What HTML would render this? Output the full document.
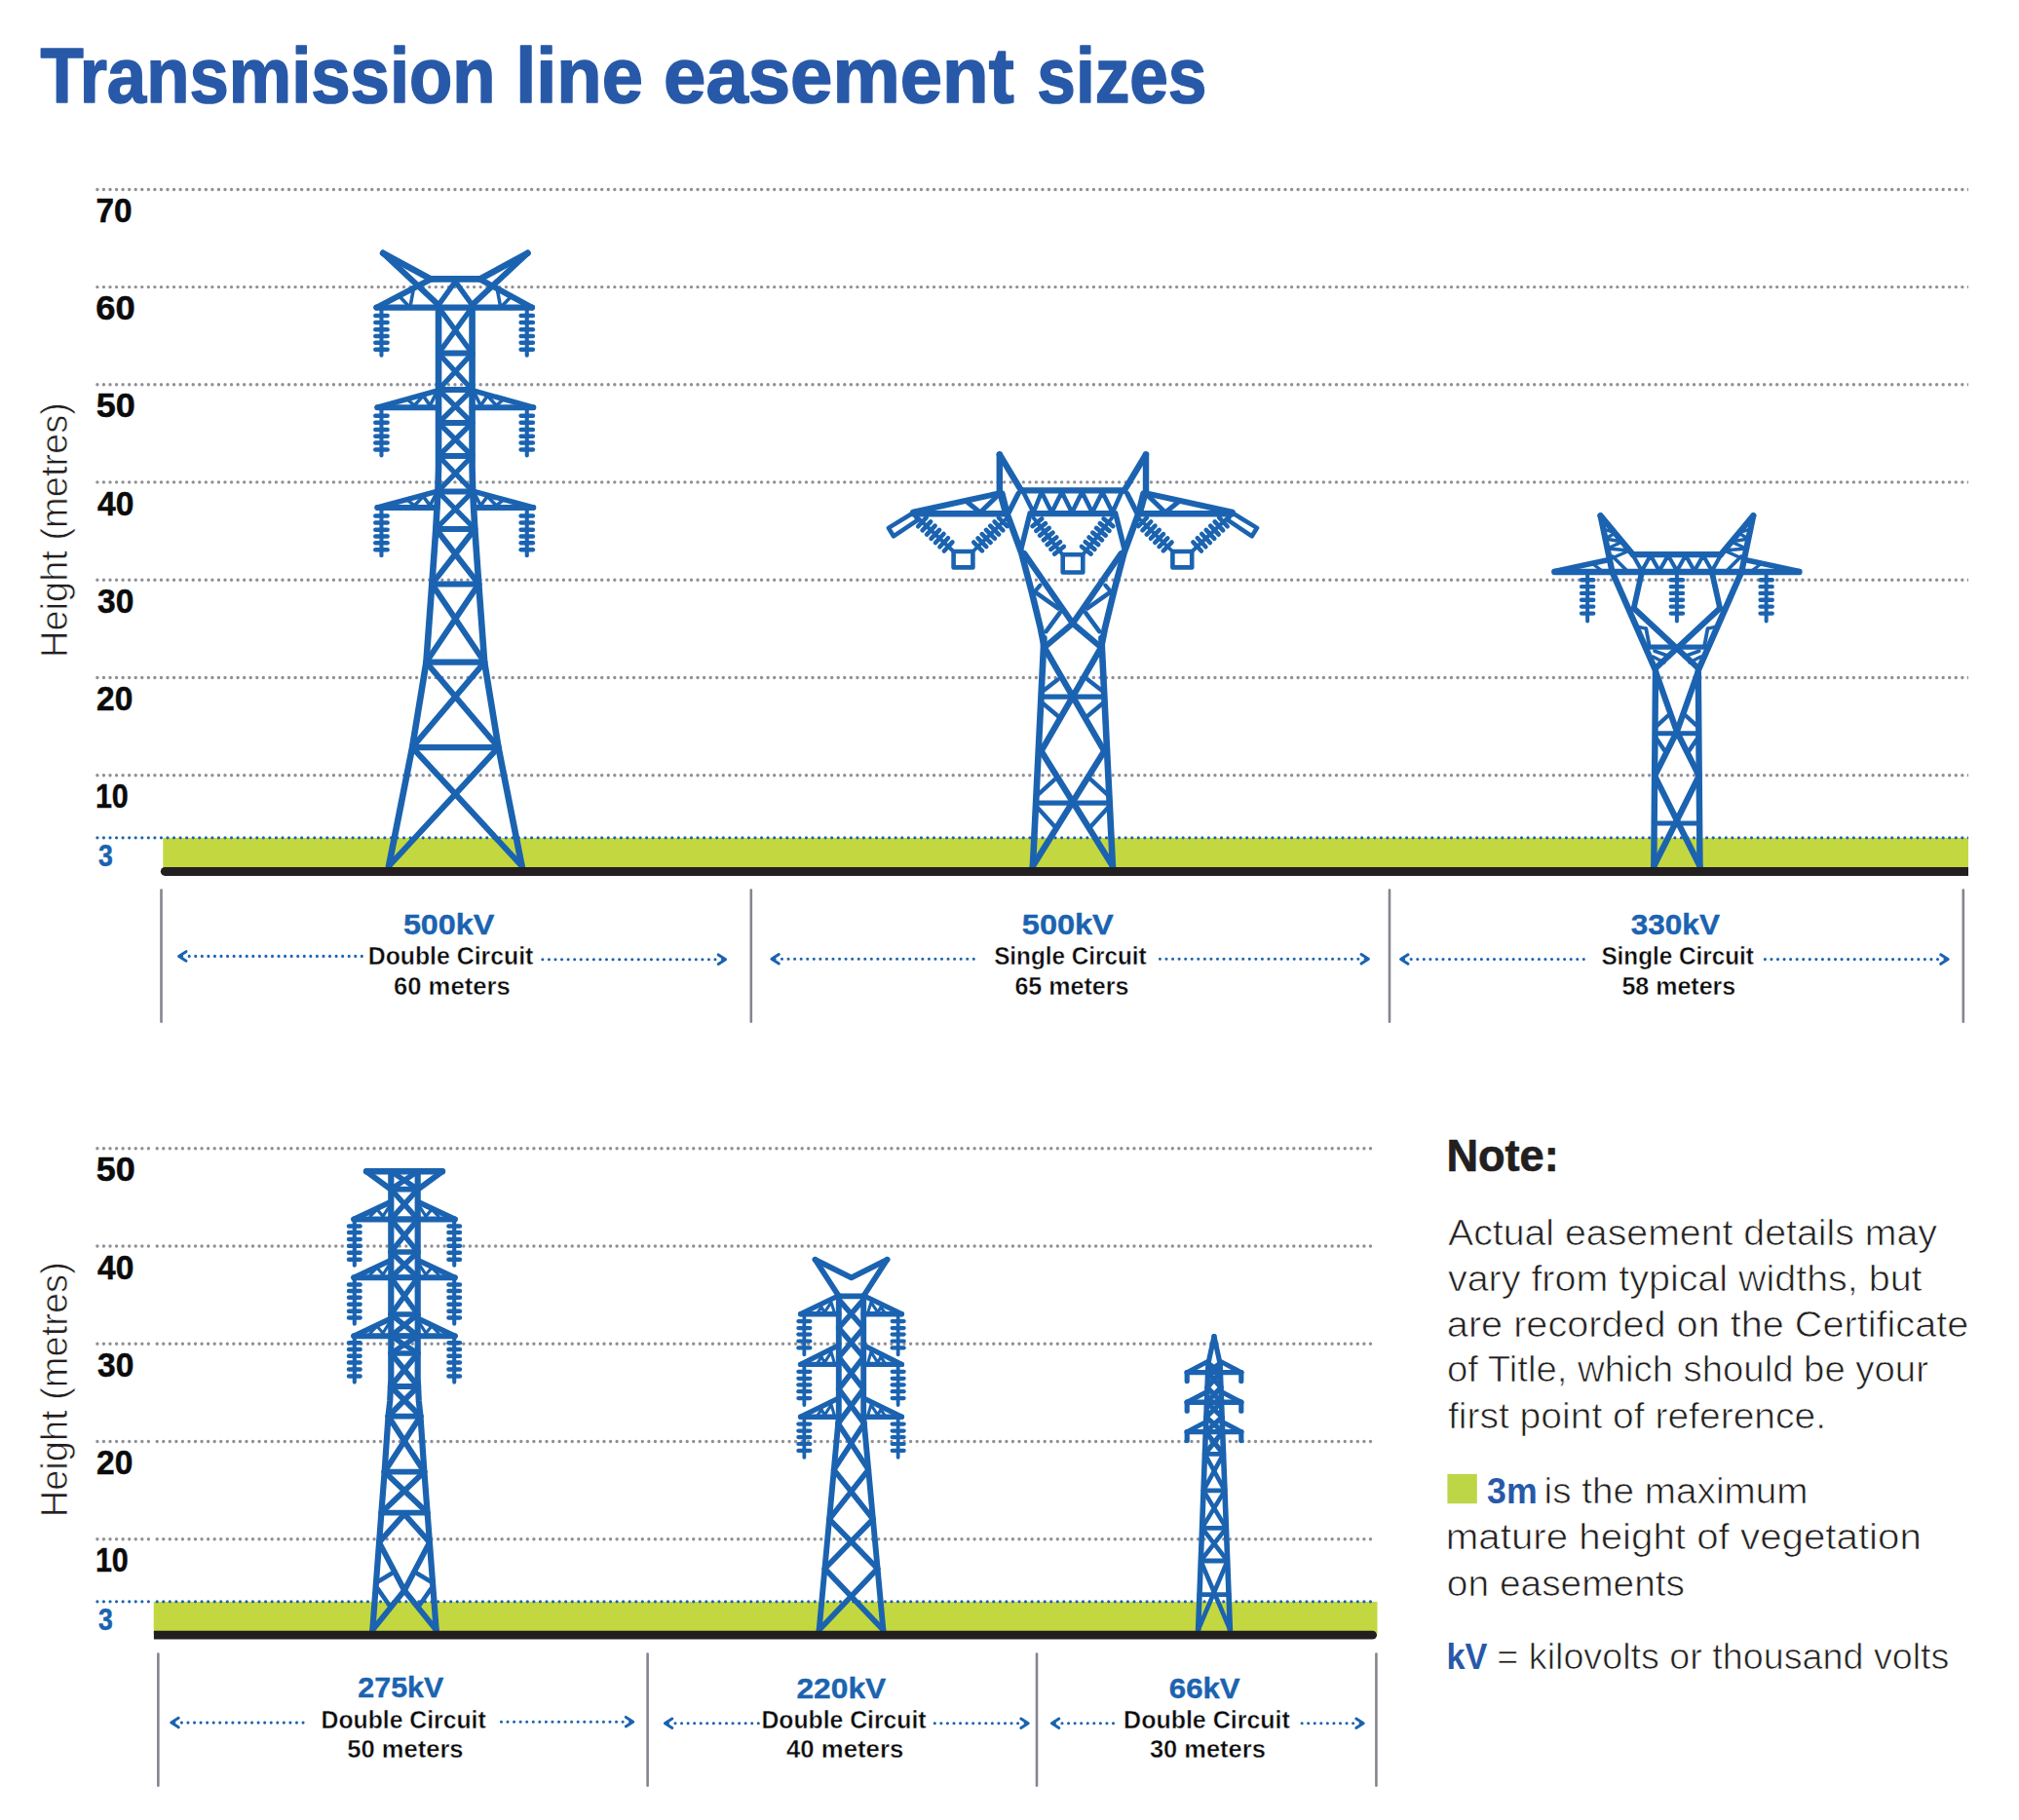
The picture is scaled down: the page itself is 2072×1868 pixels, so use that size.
<!DOCTYPE html>
<html lang="en">
<head>
<meta charset="utf-8">
<title>Transmission line easement sizes</title>
<style>
html,body{margin:0;padding:0;background:#fff}
body{width:2072px;height:1868px;overflow:hidden}
svg{display:block}
text{font-family:'Liberation Sans', sans-serif}
</style>
</head>
<body>
<svg width="2072" height="1868" viewBox="0 0 2072 1868">
<defs><clipPath id="ct"><rect x="0" y="0" width="2019.9" height="1000"/></clipPath></defs>
<rect width="2072" height="1868" fill="#fff"/>
<g id="grid">
<line x1="99.9" y1="194.5" x2="2021" y2="194.5" stroke="#8F8F97" stroke-width="3.4" stroke-linecap="round" stroke-dasharray="0 6.5545" clip-path="url(#ct)"/>
<line x1="99.9" y1="294.6" x2="2021" y2="294.6" stroke="#8F8F97" stroke-width="3.4" stroke-linecap="round" stroke-dasharray="0 6.5545" clip-path="url(#ct)"/>
<line x1="99.9" y1="394.8" x2="2021" y2="394.8" stroke="#8F8F97" stroke-width="3.4" stroke-linecap="round" stroke-dasharray="0 6.5545" clip-path="url(#ct)"/>
<line x1="99.9" y1="494.9" x2="2021" y2="494.9" stroke="#8F8F97" stroke-width="3.4" stroke-linecap="round" stroke-dasharray="0 6.5545" clip-path="url(#ct)"/>
<line x1="99.9" y1="595.2" x2="2021" y2="595.2" stroke="#8F8F97" stroke-width="3.4" stroke-linecap="round" stroke-dasharray="0 6.5545" clip-path="url(#ct)"/>
<line x1="99.9" y1="695.5" x2="2021" y2="695.5" stroke="#8F8F97" stroke-width="3.4" stroke-linecap="round" stroke-dasharray="0 6.5545" clip-path="url(#ct)"/>
<line x1="99.9" y1="795.8" x2="2021" y2="795.8" stroke="#8F8F97" stroke-width="3.4" stroke-linecap="round" stroke-dasharray="0 6.5545" clip-path="url(#ct)"/>
<rect x="167.3" y="860" width="1852.7" height="31" fill="#C3D840"/>
<line x1="99.9" y1="859.8" x2="2021" y2="859.8" stroke="#1B63B0" stroke-width="3.2" stroke-linecap="round" stroke-dasharray="0 6.5545" clip-path="url(#ct)"/>
<line x1="99.9" y1="1178.8" x2="154" y2="1178.8" stroke="#8F8F97" stroke-width="3.4" stroke-linecap="round" stroke-dasharray="0 6.56"/>
<line x1="161.2" y1="1178.8" x2="1408" y2="1178.8" stroke="#8F8F97" stroke-width="3.4" stroke-linecap="round" stroke-dasharray="0 6.554"/>
<line x1="99.9" y1="1279" x2="154" y2="1279" stroke="#8F8F97" stroke-width="3.4" stroke-linecap="round" stroke-dasharray="0 6.56"/>
<line x1="161.2" y1="1279" x2="1408" y2="1279" stroke="#8F8F97" stroke-width="3.4" stroke-linecap="round" stroke-dasharray="0 6.554"/>
<line x1="99.9" y1="1379.3" x2="154" y2="1379.3" stroke="#8F8F97" stroke-width="3.4" stroke-linecap="round" stroke-dasharray="0 6.56"/>
<line x1="161.2" y1="1379.3" x2="1408" y2="1379.3" stroke="#8F8F97" stroke-width="3.4" stroke-linecap="round" stroke-dasharray="0 6.554"/>
<line x1="99.9" y1="1479.5" x2="154" y2="1479.5" stroke="#8F8F97" stroke-width="3.4" stroke-linecap="round" stroke-dasharray="0 6.56"/>
<line x1="161.2" y1="1479.5" x2="1408" y2="1479.5" stroke="#8F8F97" stroke-width="3.4" stroke-linecap="round" stroke-dasharray="0 6.554"/>
<line x1="99.9" y1="1579.8" x2="154" y2="1579.8" stroke="#8F8F97" stroke-width="3.4" stroke-linecap="round" stroke-dasharray="0 6.56"/>
<line x1="161.2" y1="1579.8" x2="1408" y2="1579.8" stroke="#8F8F97" stroke-width="3.4" stroke-linecap="round" stroke-dasharray="0 6.554"/>
<rect x="157.7" y="1644" width="1255.8" height="33.5" fill="#C3D840"/>
<line x1="99.9" y1="1643.8" x2="154" y2="1643.8" stroke="#1B63B0" stroke-width="3.2" stroke-linecap="round" stroke-dasharray="0 6.56"/>
<line x1="161.2" y1="1643.8" x2="1408" y2="1643.8" stroke="#1B63B0" stroke-width="3.2" stroke-linecap="round" stroke-dasharray="0 6.554"/>
</g>
<g id="towers" stroke="#1B63B0" stroke-linecap="round" stroke-linejoin="round" fill="none">
<g><polyline points="450.05,315.4 450.05,480 449.4,504.4 447.3,543 443.3,599.5 437.4,679.7 423.1,767.1 399,889" stroke-width="6.6" fill="none"/><polyline points="484.55,315.4 484.55,480 485.2,504.4 487.3,543 491.3,599.5 497.2,679.7 511.5,767.1 535.6,889" stroke-width="6.6" fill="none"/><line x1="442" y1="286.4" x2="492.6" y2="286.4" stroke-width="6.6"/><line x1="393.1" y1="259.8" x2="442" y2="286.4" stroke-width="6.6"/><line x1="541.5" y1="259.8" x2="492.6" y2="286.4" stroke-width="6.6"/><line x1="393.1" y1="259.8" x2="450.05" y2="313" stroke-width="6"/><line x1="541.5" y1="259.8" x2="484.55" y2="313" stroke-width="6"/><line x1="386.5" y1="315.6" x2="545.9" y2="315.6" stroke-width="6.4"/><line x1="386.5" y1="315.6" x2="440.3" y2="287.5" stroke-width="6"/><line x1="545.9" y1="315.6" x2="494.3" y2="287.5" stroke-width="6"/><line x1="467.3" y1="289" x2="450.05" y2="313" stroke-width="5.5"/><line x1="467.3" y1="289" x2="484.55" y2="313" stroke-width="5.5"/><line x1="424.3" y1="297" x2="421.3" y2="313" stroke-width="3.6"/><line x1="510.3" y1="297" x2="513.3" y2="313" stroke-width="3.6"/><line x1="409.3" y1="303.5" x2="418.3" y2="313" stroke-width="3.6"/><line x1="525.3" y1="303.5" x2="516.3" y2="313" stroke-width="3.6"/><line x1="387.3" y1="418.2" x2="450.05" y2="418.2" stroke-width="6"/><line x1="547.3" y1="418.2" x2="484.55" y2="418.2" stroke-width="6"/><line x1="387.3" y1="418.2" x2="448.3" y2="401.1" stroke-width="5.5"/><line x1="547.3" y1="418.2" x2="486.3" y2="401.1" stroke-width="5.5"/><line x1="448.3" y1="402.1" x2="441.3" y2="416.2" stroke-width="3.6"/><line x1="486.3" y1="402.1" x2="493.3" y2="416.2" stroke-width="3.6"/><line x1="441.3" y1="416.2" x2="434.3" y2="406.1" stroke-width="3.6"/><line x1="493.3" y1="416.2" x2="500.3" y2="406.1" stroke-width="3.6"/><line x1="434.3" y1="406.1" x2="425.3" y2="416.2" stroke-width="3.6"/><line x1="500.3" y1="406.1" x2="509.3" y2="416.2" stroke-width="3.6"/><line x1="425.3" y1="416.2" x2="418.3" y2="410.1" stroke-width="3.4"/><line x1="509.3" y1="416.2" x2="516.3" y2="410.1" stroke-width="3.4"/><line x1="387.3" y1="520.9" x2="448.5" y2="520.9" stroke-width="6"/><line x1="547.3" y1="520.9" x2="486.1" y2="520.9" stroke-width="6"/><line x1="387.3" y1="520.9" x2="448.3" y2="504.4" stroke-width="5.5"/><line x1="547.3" y1="520.9" x2="486.3" y2="504.4" stroke-width="5.5"/><line x1="448.3" y1="505.4" x2="441.3" y2="518.9" stroke-width="3.6"/><line x1="486.3" y1="505.4" x2="493.3" y2="518.9" stroke-width="3.6"/><line x1="441.3" y1="518.9" x2="434.3" y2="509.4" stroke-width="3.6"/><line x1="493.3" y1="518.9" x2="500.3" y2="509.4" stroke-width="3.6"/><line x1="434.3" y1="509.4" x2="425.3" y2="518.9" stroke-width="3.6"/><line x1="500.3" y1="509.4" x2="509.3" y2="518.9" stroke-width="3.6"/><line x1="425.3" y1="518.9" x2="418.3" y2="513.4" stroke-width="3.4"/><line x1="509.3" y1="518.9" x2="516.3" y2="513.4" stroke-width="3.4"/><line x1="540.75" y1="315.4" x2="540.75" y2="364.7" stroke-width="4.1"/><line x1="534.65" y1="324" x2="546.85" y2="324" stroke-width="4.6"/><line x1="534.65" y1="331" x2="546.85" y2="331" stroke-width="4.6"/><line x1="534.65" y1="338.2" x2="546.85" y2="338.2" stroke-width="4.6"/><line x1="534.65" y1="345" x2="546.85" y2="345" stroke-width="4.6"/><line x1="534.65" y1="351.7" x2="546.85" y2="351.7" stroke-width="4.6"/><line x1="534.65" y1="358.7" x2="546.85" y2="358.7" stroke-width="4.6"/><line x1="391.45" y1="315.4" x2="391.45" y2="364.7" stroke-width="4.1"/><line x1="385.35" y1="324" x2="397.55" y2="324" stroke-width="4.6"/><line x1="385.35" y1="331" x2="397.55" y2="331" stroke-width="4.6"/><line x1="385.35" y1="338.2" x2="397.55" y2="338.2" stroke-width="4.6"/><line x1="385.35" y1="345" x2="397.55" y2="345" stroke-width="4.6"/><line x1="385.35" y1="351.7" x2="397.55" y2="351.7" stroke-width="4.6"/><line x1="385.35" y1="358.7" x2="397.55" y2="358.7" stroke-width="4.6"/><line x1="540.75" y1="418.2" x2="540.75" y2="467.5" stroke-width="4.1"/><line x1="534.65" y1="426.8" x2="546.85" y2="426.8" stroke-width="4.6"/><line x1="534.65" y1="433.8" x2="546.85" y2="433.8" stroke-width="4.6"/><line x1="534.65" y1="441" x2="546.85" y2="441" stroke-width="4.6"/><line x1="534.65" y1="447.8" x2="546.85" y2="447.8" stroke-width="4.6"/><line x1="534.65" y1="454.5" x2="546.85" y2="454.5" stroke-width="4.6"/><line x1="534.65" y1="461.5" x2="546.85" y2="461.5" stroke-width="4.6"/><line x1="391.45" y1="418.2" x2="391.45" y2="467.5" stroke-width="4.1"/><line x1="385.35" y1="426.8" x2="397.55" y2="426.8" stroke-width="4.6"/><line x1="385.35" y1="433.8" x2="397.55" y2="433.8" stroke-width="4.6"/><line x1="385.35" y1="441" x2="397.55" y2="441" stroke-width="4.6"/><line x1="385.35" y1="447.8" x2="397.55" y2="447.8" stroke-width="4.6"/><line x1="385.35" y1="454.5" x2="397.55" y2="454.5" stroke-width="4.6"/><line x1="385.35" y1="461.5" x2="397.55" y2="461.5" stroke-width="4.6"/><line x1="540.75" y1="520.9" x2="540.75" y2="570.2" stroke-width="4.1"/><line x1="534.65" y1="529.5" x2="546.85" y2="529.5" stroke-width="4.6"/><line x1="534.65" y1="536.5" x2="546.85" y2="536.5" stroke-width="4.6"/><line x1="534.65" y1="543.7" x2="546.85" y2="543.7" stroke-width="4.6"/><line x1="534.65" y1="550.5" x2="546.85" y2="550.5" stroke-width="4.6"/><line x1="534.65" y1="557.2" x2="546.85" y2="557.2" stroke-width="4.6"/><line x1="534.65" y1="564.2" x2="546.85" y2="564.2" stroke-width="4.6"/><line x1="391.45" y1="520.9" x2="391.45" y2="570.2" stroke-width="4.1"/><line x1="385.35" y1="529.5" x2="397.55" y2="529.5" stroke-width="4.6"/><line x1="385.35" y1="536.5" x2="397.55" y2="536.5" stroke-width="4.6"/><line x1="385.35" y1="543.7" x2="397.55" y2="543.7" stroke-width="4.6"/><line x1="385.35" y1="550.5" x2="397.55" y2="550.5" stroke-width="4.6"/><line x1="385.35" y1="557.2" x2="397.55" y2="557.2" stroke-width="4.6"/><line x1="385.35" y1="564.2" x2="397.55" y2="564.2" stroke-width="4.6"/><line x1="450.05" y1="315.4" x2="484.55" y2="362.6" stroke-width="5.3"/><line x1="484.55" y1="315.4" x2="450.05" y2="362.6" stroke-width="5.3"/><line x1="450.05" y1="362.6" x2="484.55" y2="400" stroke-width="5.3"/><line x1="484.55" y1="362.6" x2="450.05" y2="400" stroke-width="5.3"/><line x1="450.05" y1="400" x2="484.55" y2="434" stroke-width="5.3"/><line x1="484.55" y1="400" x2="450.05" y2="434" stroke-width="5.3"/><line x1="450.05" y1="434" x2="484.55" y2="468" stroke-width="5.3"/><line x1="484.55" y1="434" x2="450.05" y2="468" stroke-width="5.3"/><line x1="450.05" y1="468" x2="485.2" y2="504.4" stroke-width="5.3"/><line x1="484.55" y1="468" x2="449.4" y2="504.4" stroke-width="5.3"/><line x1="449.4" y1="504.4" x2="487.29" y2="542.9" stroke-width="5.3"/><line x1="485.2" y1="504.4" x2="447.31" y2="542.9" stroke-width="5.3"/><line x1="450.05" y1="362.6" x2="484.55" y2="362.6" stroke-width="6"/><line x1="450.05" y1="400" x2="484.55" y2="400" stroke-width="6"/><line x1="450.05" y1="434" x2="484.55" y2="434" stroke-width="6"/><line x1="450.05" y1="468" x2="484.55" y2="468" stroke-width="6"/><line x1="449.4" y1="504.4" x2="485.2" y2="504.4" stroke-width="6"/><line x1="447.31" y1="542.9" x2="487.29" y2="542.9" stroke-width="6"/><line x1="447.31" y1="542.9" x2="491.3" y2="599.5" stroke-width="6"/><line x1="487.29" y1="542.9" x2="443.3" y2="599.5" stroke-width="6"/><line x1="443.3" y1="599.5" x2="497.2" y2="679.7" stroke-width="6"/><line x1="491.3" y1="599.5" x2="437.4" y2="679.7" stroke-width="6"/><line x1="437.4" y1="679.7" x2="511.5" y2="767.1" stroke-width="6"/><line x1="497.2" y1="679.7" x2="423.1" y2="767.1" stroke-width="6"/><line x1="423.1" y1="767.1" x2="535.6" y2="889" stroke-width="6"/><line x1="511.5" y1="767.1" x2="399" y2="889" stroke-width="6"/><line x1="443.3" y1="599.5" x2="491.3" y2="599.5" stroke-width="6.2"/><line x1="437.4" y1="679.7" x2="497.2" y2="679.7" stroke-width="6.2"/><line x1="423.1" y1="767.1" x2="511.5" y2="767.1" stroke-width="6.2"/></g>
<g><line x1="1025.8" y1="466.5" x2="1025.8" y2="506.6" stroke-width="6.4"/><line x1="1176" y1="466.5" x2="1176" y2="506.6" stroke-width="6.4"/><line x1="1025.8" y1="466.5" x2="1048" y2="503.4" stroke-width="6.4"/><line x1="1176" y1="466.5" x2="1153.8" y2="503.4" stroke-width="6.4"/><line x1="1048" y1="503.4" x2="1153.8" y2="503.4" stroke-width="6.4"/><line x1="937" y1="527.2" x2="1033.9" y2="527.2" stroke-width="6.4"/><line x1="1264.8" y1="527.2" x2="1167.9" y2="527.2" stroke-width="6.4"/><line x1="1057.4" y1="527.2" x2="1144.4" y2="527.2" stroke-width="6.2"/><line x1="937" y1="525.7" x2="1024.2" y2="506.6" stroke-width="6"/><line x1="1264.8" y1="525.7" x2="1177.6" y2="506.6" stroke-width="6"/><line x1="1025.8" y1="506.6" x2="1005.9" y2="526" stroke-width="5"/><line x1="1176" y1="506.6" x2="1195.9" y2="526" stroke-width="5"/><line x1="1005.9" y1="526" x2="992.9" y2="515.5" stroke-width="5"/><line x1="1195.9" y1="526" x2="1208.9" y2="515.5" stroke-width="5"/><line x1="1025.8" y1="506.6" x2="1030.9" y2="525" stroke-width="5"/><line x1="1176" y1="506.6" x2="1170.9" y2="525" stroke-width="5"/><polygon points="937.4,526.3 911.8,541.9 917,550.3 942,533.6" stroke-width="4.6" fill="none"/><polygon points="1264.4,526.3 1290,541.9 1284.8,550.3 1259.8,533.6" stroke-width="4.6" fill="none"/><polyline points="1050.2,505 1060.6,526 1068.9,505 1079.3,526 1089.7,505 1100.1,526 1110.5,505 1120.9,526 1131.3,505 1141.7,526 1151.1,505" stroke-width="4.6" fill="none"/><line x1="942" y1="531.5" x2="978.5" y2="566" stroke-width="3.8"/><line x1="950.71" y1="531.2" x2="942.19" y2="540.21" stroke-width="4.6"/><line x1="955.16" y1="535.41" x2="946.64" y2="544.42" stroke-width="4.6"/><line x1="959.61" y1="539.62" x2="951.09" y2="548.63" stroke-width="4.6"/><line x1="964.06" y1="543.82" x2="955.55" y2="552.84" stroke-width="4.6"/><line x1="968.51" y1="548.03" x2="960" y2="557.04" stroke-width="4.6"/><line x1="972.97" y1="552.24" x2="964.45" y2="561.25" stroke-width="4.6"/><line x1="977.42" y1="556.45" x2="968.9" y2="565.46" stroke-width="4.6"/><line x1="1033.5" y1="531.5" x2="998.5" y2="566" stroke-width="3.8"/><line x1="1033.58" y1="540.12" x2="1024.88" y2="531.29" stroke-width="4.6"/><line x1="1029.32" y1="544.33" x2="1020.61" y2="535.5" stroke-width="4.6"/><line x1="1025.05" y1="548.54" x2="1016.34" y2="539.71" stroke-width="4.6"/><line x1="1020.78" y1="552.74" x2="1012.07" y2="543.91" stroke-width="4.6"/><line x1="1016.51" y1="556.95" x2="1007.81" y2="548.12" stroke-width="4.6"/><line x1="1012.24" y1="561.16" x2="1003.54" y2="552.33" stroke-width="4.6"/><line x1="1007.97" y1="565.37" x2="999.27" y2="556.54" stroke-width="4.6"/><rect x="978.6" y="566" width="19.8" height="16.4" stroke-width="4.6" fill="none"/><line x1="1259.8" y1="531.5" x2="1223.3" y2="566" stroke-width="3.8"/><line x1="1259.61" y1="540.21" x2="1251.09" y2="531.2" stroke-width="4.6"/><line x1="1255.16" y1="544.42" x2="1246.64" y2="535.41" stroke-width="4.6"/><line x1="1250.71" y1="548.63" x2="1242.19" y2="539.62" stroke-width="4.6"/><line x1="1246.25" y1="552.84" x2="1237.74" y2="543.82" stroke-width="4.6"/><line x1="1241.8" y1="557.04" x2="1233.29" y2="548.03" stroke-width="4.6"/><line x1="1237.35" y1="561.25" x2="1228.83" y2="552.24" stroke-width="4.6"/><line x1="1232.9" y1="565.46" x2="1224.38" y2="556.45" stroke-width="4.6"/><line x1="1168.3" y1="531.5" x2="1203.3" y2="566" stroke-width="3.8"/><line x1="1176.92" y1="531.29" x2="1168.22" y2="540.12" stroke-width="4.6"/><line x1="1181.19" y1="535.5" x2="1172.48" y2="544.33" stroke-width="4.6"/><line x1="1185.46" y1="539.71" x2="1176.75" y2="548.54" stroke-width="4.6"/><line x1="1189.73" y1="543.91" x2="1181.02" y2="552.74" stroke-width="4.6"/><line x1="1193.99" y1="548.12" x2="1185.29" y2="556.95" stroke-width="4.6"/><line x1="1198.26" y1="552.33" x2="1189.56" y2="561.16" stroke-width="4.6"/><line x1="1202.53" y1="556.54" x2="1193.83" y2="565.37" stroke-width="4.6"/><rect x="1203.4" y="566" width="19.8" height="16.4" stroke-width="4.6" fill="none"/><line x1="1060.6" y1="531.5" x2="1091.5" y2="570.5" stroke-width="3.8"/><line x1="1069.23" y1="532.41" x2="1059.51" y2="540.11" stroke-width="4.6"/><line x1="1073" y1="537.16" x2="1063.28" y2="544.86" stroke-width="4.6"/><line x1="1076.76" y1="541.92" x2="1067.05" y2="549.62" stroke-width="4.6"/><line x1="1080.53" y1="546.67" x2="1070.81" y2="554.37" stroke-width="4.6"/><line x1="1084.3" y1="551.43" x2="1074.58" y2="559.13" stroke-width="4.6"/><line x1="1088.07" y1="556.19" x2="1078.35" y2="563.89" stroke-width="4.6"/><line x1="1091.84" y1="560.94" x2="1082.12" y2="568.64" stroke-width="4.6"/><line x1="1141.2" y1="531.5" x2="1110.3" y2="570.5" stroke-width="3.8"/><line x1="1142.29" y1="540.11" x2="1132.57" y2="532.41" stroke-width="4.6"/><line x1="1138.52" y1="544.86" x2="1128.8" y2="537.16" stroke-width="4.6"/><line x1="1134.75" y1="549.62" x2="1125.04" y2="541.92" stroke-width="4.6"/><line x1="1130.99" y1="554.37" x2="1121.27" y2="546.67" stroke-width="4.6"/><line x1="1127.22" y1="559.13" x2="1117.5" y2="551.43" stroke-width="4.6"/><line x1="1123.45" y1="563.89" x2="1113.73" y2="556.19" stroke-width="4.6"/><line x1="1119.68" y1="568.64" x2="1109.96" y2="560.94" stroke-width="4.6"/><rect x="1090.7" y="569.2" width="20.6" height="18.3" stroke-width="4.6" fill="none"/><path d="M1028.3,506.6 L1033.5,527.4 L1048.1,567 L1058.5,606.4 L1067.9,645 L1071.4,663" stroke-width="6.6" fill="none"/><path d="M1173.5,506.6 L1168.3,527.4 L1153.7,567 L1143.3,606.4 L1133.9,645 L1130.4,663" stroke-width="6.6" fill="none"/><polyline points="1071.4,655 1059.9,889" stroke-width="6.6" fill="none"/><polyline points="1130.4,655 1141.9,889" stroke-width="6.6" fill="none"/><line x1="1056.4" y1="529.5" x2="1048.1" y2="562.7" stroke-width="5.4"/><line x1="1145.4" y1="529.5" x2="1153.7" y2="562.7" stroke-width="5.4"/><line x1="1045" y1="506.6" x2="1035.6" y2="525.3" stroke-width="5.4"/><line x1="1156.8" y1="506.6" x2="1166.2" y2="525.3" stroke-width="5.4"/><line x1="1051.2" y1="568.1" x2="1100.9" y2="639.8" stroke-width="6.2"/><line x1="1150.6" y1="568.1" x2="1100.9" y2="639.8" stroke-width="6.2"/><line x1="1100.9" y1="639.8" x2="1072.9" y2="663.5" stroke-width="6.2"/><line x1="1100.9" y1="639.8" x2="1128.9" y2="663.5" stroke-width="6.2"/><line x1="1062.2" y1="607.7" x2="1085.9" y2="624.4" stroke-width="4.6"/><line x1="1139.6" y1="607.7" x2="1115.9" y2="624.4" stroke-width="4.6"/><line x1="1087.7" y1="628.8" x2="1073.6" y2="648.1" stroke-width="4.6"/><line x1="1114.1" y1="628.8" x2="1128.2" y2="648.1" stroke-width="4.6"/><line x1="1067.5" y1="600.7" x2="1062.2" y2="606.8" stroke-width="4.2"/><line x1="1134.3" y1="600.7" x2="1139.6" y2="606.8" stroke-width="4.2"/><line x1="1071.1" y1="663.3" x2="1133" y2="770.5" stroke-width="6.3"/><line x1="1130.7" y1="663.3" x2="1068.8" y2="770.5" stroke-width="6.3"/><line x1="1068.3" y1="770.5" x2="1141.9" y2="889" stroke-width="6.3"/><line x1="1133.5" y1="770.5" x2="1059.9" y2="889" stroke-width="6.3"/><line x1="1068.9" y1="715.2" x2="1132.9" y2="715.2" stroke-width="5.2"/><line x1="1063.9" y1="824.2" x2="1137.9" y2="824.2" stroke-width="5.2"/><line x1="1069.4" y1="709.9" x2="1085.5" y2="697.6" stroke-width="4.4"/><line x1="1132.4" y1="709.9" x2="1116.3" y2="697.6" stroke-width="4.4"/><line x1="1069.4" y1="721.3" x2="1087.3" y2="736.3" stroke-width="4.4"/><line x1="1132.4" y1="721.3" x2="1114.5" y2="736.3" stroke-width="4.4"/><line x1="1064.4" y1="816.3" x2="1082" y2="800.4" stroke-width="4.4"/><line x1="1137.4" y1="816.3" x2="1119.8" y2="800.4" stroke-width="4.4"/><line x1="1064.4" y1="828.6" x2="1083.7" y2="849.7" stroke-width="4.4"/><line x1="1137.4" y1="828.6" x2="1118.1" y2="849.7" stroke-width="4.4"/></g>
<g><line x1="1642.55" y1="529.3" x2="1675.9" y2="569.2" stroke-width="6.2"/><line x1="1799.25" y1="529.3" x2="1765.9" y2="569.2" stroke-width="6.2"/><line x1="1642.55" y1="529.3" x2="1654.55" y2="587" stroke-width="6.2"/><line x1="1799.25" y1="529.3" x2="1787.25" y2="587" stroke-width="6.2"/><line x1="1675.9" y1="569.2" x2="1765.9" y2="569.2" stroke-width="6.2"/><line x1="1595.4" y1="587" x2="1846.4" y2="587" stroke-width="6.4"/><line x1="1595.4" y1="586.5" x2="1648.8" y2="575" stroke-width="5.6"/><line x1="1846.4" y1="586.5" x2="1793" y2="575" stroke-width="5.6"/><polyline points="1645.49,543 1657.62,547 1647.55,553 1665.03,556 1649.61,563 1672.44,565 1651.87,574" stroke-width="3.4" fill="none"/><polyline points="1796.31,543 1784.18,547 1794.25,553 1776.77,556 1792.19,563 1769.36,565 1789.93,574" stroke-width="3.4" fill="none"/><line x1="1654.9" y1="571" x2="1668.9" y2="585" stroke-width="3.6"/><line x1="1786.9" y1="571" x2="1772.9" y2="585" stroke-width="3.6"/><line x1="1634.9" y1="579" x2="1642.9" y2="585" stroke-width="3.4"/><line x1="1806.9" y1="579" x2="1798.9" y2="585" stroke-width="3.4"/><polyline points="1675.9,570 1684.9,586 1693.9,570 1702.9,586 1711.9,570 1720.9,586 1729.9,570 1738.9,586 1747.9,570 1756.9,586 1765.9,570" stroke-width="4.2" fill="none"/><line x1="1812.65" y1="587" x2="1812.65" y2="637.5" stroke-width="4"/><line x1="1806.6" y1="595.2" x2="1818.7" y2="595.2" stroke-width="4.4"/><line x1="1806.6" y1="602.1" x2="1818.7" y2="602.1" stroke-width="4.4"/><line x1="1806.6" y1="608.9" x2="1818.7" y2="608.9" stroke-width="4.4"/><line x1="1806.6" y1="615.8" x2="1818.7" y2="615.8" stroke-width="4.4"/><line x1="1806.6" y1="622.6" x2="1818.7" y2="622.6" stroke-width="4.4"/><line x1="1806.6" y1="629.6" x2="1818.7" y2="629.6" stroke-width="4.4"/><line x1="1629.15" y1="587" x2="1629.15" y2="637.5" stroke-width="4"/><line x1="1623.1" y1="595.2" x2="1635.2" y2="595.2" stroke-width="4.4"/><line x1="1623.1" y1="602.1" x2="1635.2" y2="602.1" stroke-width="4.4"/><line x1="1623.1" y1="608.9" x2="1635.2" y2="608.9" stroke-width="4.4"/><line x1="1623.1" y1="615.8" x2="1635.2" y2="615.8" stroke-width="4.4"/><line x1="1623.1" y1="622.6" x2="1635.2" y2="622.6" stroke-width="4.4"/><line x1="1623.1" y1="629.6" x2="1635.2" y2="629.6" stroke-width="4.4"/><line x1="1720.9" y1="587" x2="1720.9" y2="637.5" stroke-width="4"/><line x1="1714.85" y1="595.2" x2="1726.95" y2="595.2" stroke-width="4.4"/><line x1="1714.85" y1="602.1" x2="1726.95" y2="602.1" stroke-width="4.4"/><line x1="1714.85" y1="608.9" x2="1726.95" y2="608.9" stroke-width="4.4"/><line x1="1714.85" y1="615.8" x2="1726.95" y2="615.8" stroke-width="4.4"/><line x1="1714.85" y1="622.6" x2="1726.95" y2="622.6" stroke-width="4.4"/><line x1="1714.85" y1="629.6" x2="1726.95" y2="629.6" stroke-width="4.4"/><polyline points="1654.55,587 1699,688 1697.3,889" stroke-width="6.4" fill="none"/><polyline points="1787.25,587 1742.8,688 1744.5,889" stroke-width="6.4" fill="none"/><line x1="1685" y1="587" x2="1676.7" y2="624.3" stroke-width="5.8"/><line x1="1756.8" y1="587" x2="1765.1" y2="624.3" stroke-width="5.8"/><line x1="1676.7" y1="624.3" x2="1743.2" y2="686.3" stroke-width="6"/><line x1="1765.1" y1="624.3" x2="1698.6" y2="686.3" stroke-width="6"/><line x1="1689.9" y1="664.2" x2="1751.9" y2="664.2" stroke-width="5.2"/><line x1="1689.3" y1="645.2" x2="1692.6" y2="662.7" stroke-width="3.8"/><line x1="1752.5" y1="645.2" x2="1749.2" y2="662.7" stroke-width="3.8"/><line x1="1679.4" y1="643" x2="1689.3" y2="645.2" stroke-width="3.4"/><line x1="1762.4" y1="643" x2="1752.5" y2="645.2" stroke-width="3.4"/><line x1="1698.1" y1="668.2" x2="1713.5" y2="673.7" stroke-width="3.8"/><line x1="1743.7" y1="668.2" x2="1728.3" y2="673.7" stroke-width="3.8"/><line x1="1696.4" y1="674" x2="1707.9" y2="680" stroke-width="3.4"/><line x1="1745.4" y1="674" x2="1733.9" y2="680" stroke-width="3.4"/><line x1="1699" y1="689" x2="1720.9" y2="751" stroke-width="6.2"/><line x1="1742.8" y1="689" x2="1720.9" y2="751" stroke-width="6.2"/><line x1="1720.9" y1="751" x2="1698.2" y2="796.4" stroke-width="6.2"/><line x1="1720.9" y1="751" x2="1743.6" y2="796.4" stroke-width="6.2"/><line x1="1698.2" y1="796.4" x2="1720.9" y2="842" stroke-width="6.2"/><line x1="1743.6" y1="796.4" x2="1720.9" y2="842" stroke-width="6.2"/><line x1="1720.9" y1="842" x2="1697.3" y2="889" stroke-width="6.2"/><line x1="1720.9" y1="842" x2="1744.5" y2="889" stroke-width="6.2"/><line x1="1698.5" y1="752.8" x2="1743.3" y2="752.8" stroke-width="5"/><line x1="1697.7" y1="845.1" x2="1744.1" y2="845.1" stroke-width="5"/><line x1="1699.4" y1="745.9" x2="1711.8" y2="734.5" stroke-width="4.4"/><line x1="1742.4" y1="745.9" x2="1730" y2="734.5" stroke-width="4.4"/><line x1="1699.4" y1="757.2" x2="1708" y2="769.9" stroke-width="4.4"/><line x1="1742.4" y1="757.2" x2="1733.8" y2="769.9" stroke-width="4.4"/></g>
<g><polyline points="401.3,1202.3 401.3,1415 400.2,1438 398.5,1453.7 394.6,1510.6 391.4,1552.6 382.3,1673" stroke-width="6.2" fill="none"/><polyline points="428.7,1202.3 428.7,1415 429.8,1438 431.5,1453.7 435.4,1510.6 438.6,1552.6 447.7,1673" stroke-width="6.2" fill="none"/><line x1="376" y1="1202.3" x2="454" y2="1202.3" stroke-width="6.4"/><line x1="376" y1="1202.3" x2="401.25" y2="1220.8" stroke-width="6"/><line x1="454" y1="1202.3" x2="428.75" y2="1220.8" stroke-width="6"/><line x1="363.2" y1="1251.4" x2="466.8" y2="1251.4" stroke-width="6"/><line x1="363.2" y1="1251.4" x2="401" y2="1233.6" stroke-width="5.6"/><line x1="466.8" y1="1251.4" x2="429" y2="1233.6" stroke-width="5.6"/><line x1="400" y1="1237.4" x2="393" y2="1248.4" stroke-width="3.2"/><line x1="430" y1="1237.4" x2="437" y2="1248.4" stroke-width="3.2"/><line x1="393" y1="1248.4" x2="387" y2="1241.4" stroke-width="3.2"/><line x1="437" y1="1248.4" x2="443" y2="1241.4" stroke-width="3.2"/><line x1="387" y1="1241.4" x2="380" y2="1248.4" stroke-width="3"/><line x1="443" y1="1241.4" x2="450" y2="1248.4" stroke-width="3"/><line x1="363.2" y1="1311.3" x2="466.8" y2="1311.3" stroke-width="6"/><line x1="363.2" y1="1311.3" x2="401" y2="1293.5" stroke-width="5.6"/><line x1="466.8" y1="1311.3" x2="429" y2="1293.5" stroke-width="5.6"/><line x1="400" y1="1297.3" x2="393" y2="1308.3" stroke-width="3.2"/><line x1="430" y1="1297.3" x2="437" y2="1308.3" stroke-width="3.2"/><line x1="393" y1="1308.3" x2="387" y2="1301.3" stroke-width="3.2"/><line x1="437" y1="1308.3" x2="443" y2="1301.3" stroke-width="3.2"/><line x1="387" y1="1301.3" x2="380" y2="1308.3" stroke-width="3"/><line x1="443" y1="1301.3" x2="450" y2="1308.3" stroke-width="3"/><line x1="363.2" y1="1371.2" x2="466.8" y2="1371.2" stroke-width="6"/><line x1="363.2" y1="1371.2" x2="401" y2="1353.4" stroke-width="5.6"/><line x1="466.8" y1="1371.2" x2="429" y2="1353.4" stroke-width="5.6"/><line x1="400" y1="1357.2" x2="393" y2="1368.2" stroke-width="3.2"/><line x1="430" y1="1357.2" x2="437" y2="1368.2" stroke-width="3.2"/><line x1="393" y1="1368.2" x2="387" y2="1361.2" stroke-width="3.2"/><line x1="437" y1="1368.2" x2="443" y2="1361.2" stroke-width="3.2"/><line x1="387" y1="1361.2" x2="380" y2="1368.2" stroke-width="3"/><line x1="443" y1="1361.2" x2="450" y2="1368.2" stroke-width="3"/><line x1="466.2" y1="1251.4" x2="466.2" y2="1298.8" stroke-width="4.1"/><line x1="460.45" y1="1258.5" x2="471.95" y2="1258.5" stroke-width="4.5"/><line x1="460.45" y1="1265.1" x2="471.95" y2="1265.1" stroke-width="4.5"/><line x1="460.45" y1="1271.9" x2="471.95" y2="1271.9" stroke-width="4.5"/><line x1="460.45" y1="1278.8" x2="471.95" y2="1278.8" stroke-width="4.5"/><line x1="460.45" y1="1285.8" x2="471.95" y2="1285.8" stroke-width="4.5"/><line x1="460.45" y1="1292.7" x2="471.95" y2="1292.7" stroke-width="4.5"/><line x1="363.8" y1="1251.4" x2="363.8" y2="1298.8" stroke-width="4.1"/><line x1="358.05" y1="1258.5" x2="369.55" y2="1258.5" stroke-width="4.5"/><line x1="358.05" y1="1265.1" x2="369.55" y2="1265.1" stroke-width="4.5"/><line x1="358.05" y1="1271.9" x2="369.55" y2="1271.9" stroke-width="4.5"/><line x1="358.05" y1="1278.8" x2="369.55" y2="1278.8" stroke-width="4.5"/><line x1="358.05" y1="1285.8" x2="369.55" y2="1285.8" stroke-width="4.5"/><line x1="358.05" y1="1292.7" x2="369.55" y2="1292.7" stroke-width="4.5"/><line x1="466.2" y1="1311.3" x2="466.2" y2="1358.7" stroke-width="4.1"/><line x1="460.45" y1="1318.4" x2="471.95" y2="1318.4" stroke-width="4.5"/><line x1="460.45" y1="1325" x2="471.95" y2="1325" stroke-width="4.5"/><line x1="460.45" y1="1331.8" x2="471.95" y2="1331.8" stroke-width="4.5"/><line x1="460.45" y1="1338.7" x2="471.95" y2="1338.7" stroke-width="4.5"/><line x1="460.45" y1="1345.7" x2="471.95" y2="1345.7" stroke-width="4.5"/><line x1="460.45" y1="1352.6" x2="471.95" y2="1352.6" stroke-width="4.5"/><line x1="363.8" y1="1311.3" x2="363.8" y2="1358.7" stroke-width="4.1"/><line x1="358.05" y1="1318.4" x2="369.55" y2="1318.4" stroke-width="4.5"/><line x1="358.05" y1="1325" x2="369.55" y2="1325" stroke-width="4.5"/><line x1="358.05" y1="1331.8" x2="369.55" y2="1331.8" stroke-width="4.5"/><line x1="358.05" y1="1338.7" x2="369.55" y2="1338.7" stroke-width="4.5"/><line x1="358.05" y1="1345.7" x2="369.55" y2="1345.7" stroke-width="4.5"/><line x1="358.05" y1="1352.6" x2="369.55" y2="1352.6" stroke-width="4.5"/><line x1="466.2" y1="1371.2" x2="466.2" y2="1418.6" stroke-width="4.1"/><line x1="460.45" y1="1378.3" x2="471.95" y2="1378.3" stroke-width="4.5"/><line x1="460.45" y1="1384.9" x2="471.95" y2="1384.9" stroke-width="4.5"/><line x1="460.45" y1="1391.7" x2="471.95" y2="1391.7" stroke-width="4.5"/><line x1="460.45" y1="1398.6" x2="471.95" y2="1398.6" stroke-width="4.5"/><line x1="460.45" y1="1405.6" x2="471.95" y2="1405.6" stroke-width="4.5"/><line x1="460.45" y1="1412.5" x2="471.95" y2="1412.5" stroke-width="4.5"/><line x1="363.8" y1="1371.2" x2="363.8" y2="1418.6" stroke-width="4.1"/><line x1="358.05" y1="1378.3" x2="369.55" y2="1378.3" stroke-width="4.5"/><line x1="358.05" y1="1384.9" x2="369.55" y2="1384.9" stroke-width="4.5"/><line x1="358.05" y1="1391.7" x2="369.55" y2="1391.7" stroke-width="4.5"/><line x1="358.05" y1="1398.6" x2="369.55" y2="1398.6" stroke-width="4.5"/><line x1="358.05" y1="1405.6" x2="369.55" y2="1405.6" stroke-width="4.5"/><line x1="358.05" y1="1412.5" x2="369.55" y2="1412.5" stroke-width="4.5"/><line x1="401.3" y1="1202.3" x2="428.7" y2="1220.6" stroke-width="5.5"/><line x1="428.7" y1="1202.3" x2="401.3" y2="1220.6" stroke-width="5.5"/><line x1="401.3" y1="1220.6" x2="428.7" y2="1251.4" stroke-width="5.5"/><line x1="428.7" y1="1220.6" x2="401.3" y2="1251.4" stroke-width="5.5"/><line x1="401.3" y1="1251.4" x2="428.7" y2="1285" stroke-width="5.5"/><line x1="428.7" y1="1251.4" x2="401.3" y2="1285" stroke-width="5.5"/><line x1="401.3" y1="1285" x2="428.7" y2="1311.3" stroke-width="5.5"/><line x1="428.7" y1="1285" x2="401.3" y2="1311.3" stroke-width="5.5"/><line x1="401.3" y1="1311.3" x2="428.7" y2="1349" stroke-width="5.5"/><line x1="428.7" y1="1311.3" x2="401.3" y2="1349" stroke-width="5.5"/><line x1="401.3" y1="1349" x2="428.7" y2="1371.2" stroke-width="5.5"/><line x1="428.7" y1="1349" x2="401.3" y2="1371.2" stroke-width="5.5"/><line x1="401.3" y1="1371.2" x2="428.7" y2="1389" stroke-width="5.5"/><line x1="428.7" y1="1371.2" x2="401.3" y2="1389" stroke-width="5.5"/><line x1="401.3" y1="1220.6" x2="428.7" y2="1220.6" stroke-width="5.6"/><line x1="401.3" y1="1251.4" x2="428.7" y2="1251.4" stroke-width="5.6"/><line x1="401.3" y1="1285" x2="428.7" y2="1285" stroke-width="5.6"/><line x1="401.3" y1="1311.3" x2="428.7" y2="1311.3" stroke-width="5.6"/><line x1="401.3" y1="1349" x2="428.7" y2="1349" stroke-width="5.6"/><line x1="401.3" y1="1371.2" x2="428.7" y2="1371.2" stroke-width="5.6"/><line x1="401.3" y1="1389" x2="428.7" y2="1389" stroke-width="5.6"/><line x1="401.3" y1="1389" x2="429.08" y2="1423" stroke-width="5.9"/><line x1="428.7" y1="1389" x2="400.92" y2="1423" stroke-width="5.9"/><line x1="400.92" y1="1423" x2="431.5" y2="1453.7" stroke-width="5.9"/><line x1="429.08" y1="1423" x2="398.5" y2="1453.7" stroke-width="5.9"/><line x1="398.5" y1="1453.7" x2="435.4" y2="1510.6" stroke-width="5.9"/><line x1="431.5" y1="1453.7" x2="394.6" y2="1510.6" stroke-width="5.9"/><line x1="394.6" y1="1510.6" x2="438.6" y2="1552.6" stroke-width="5.9"/><line x1="435.4" y1="1510.6" x2="391.4" y2="1552.6" stroke-width="5.9"/><line x1="400.92" y1="1423" x2="429.08" y2="1423" stroke-width="5.8"/><line x1="398.5" y1="1453.7" x2="431.5" y2="1453.7" stroke-width="5.8"/><line x1="394.6" y1="1510.6" x2="435.4" y2="1510.6" stroke-width="5.8"/><line x1="391.4" y1="1552.6" x2="438.6" y2="1552.6" stroke-width="5.8"/><line x1="415" y1="1554" x2="389.1" y2="1583" stroke-width="5.8"/><line x1="415" y1="1554" x2="440.9" y2="1583" stroke-width="5.8"/><line x1="389.1" y1="1583" x2="415" y2="1632.3" stroke-width="5.9"/><line x1="440.9" y1="1583" x2="415" y2="1632.3" stroke-width="5.9"/><line x1="415" y1="1632.3" x2="382.3" y2="1673" stroke-width="5.9"/><line x1="415" y1="1632.3" x2="447.7" y2="1673" stroke-width="5.9"/><line x1="387.7" y1="1623.5" x2="402.2" y2="1614.8" stroke-width="4.6"/><line x1="442.3" y1="1623.5" x2="427.8" y2="1614.8" stroke-width="4.6"/><line x1="387.7" y1="1630.6" x2="400.5" y2="1649" stroke-width="4.6"/><line x1="442.3" y1="1630.6" x2="429.5" y2="1649" stroke-width="4.6"/></g>
<g><polyline points="836.55,1292.8 873.7,1311.3 910.45,1292.8" stroke-width="5.8" fill="none"/><line x1="836.55" y1="1292.8" x2="860.8" y2="1330.3" stroke-width="5.8"/><line x1="910.45" y1="1292.8" x2="886.2" y2="1330.3" stroke-width="5.8"/><line x1="860.8" y1="1330.3" x2="886.2" y2="1330.3" stroke-width="5.8"/><polyline points="860.8,1330.3 860.8,1454 840.6,1673" stroke-width="5.9" fill="none"/><polyline points="886.2,1330.3 886.2,1454 906.4,1673" stroke-width="5.9" fill="none"/><line x1="821.6" y1="1348.7" x2="860.8" y2="1348.7" stroke-width="5.4"/><line x1="925.4" y1="1348.7" x2="886.2" y2="1348.7" stroke-width="5.4"/><line x1="821.6" y1="1348.7" x2="860" y2="1330.2" stroke-width="5.2"/><line x1="925.4" y1="1348.7" x2="887" y2="1330.2" stroke-width="5.2"/><polyline points="856.2,1346.9 853.1,1336.7 846.2,1346.9 843.1,1341.4 839.2,1346.9" stroke-width="3.1" fill="none"/><polyline points="890.8,1346.9 893.9,1336.7 900.8,1346.9 903.9,1341.4 907.8,1346.9" stroke-width="3.1" fill="none"/><line x1="921.65" y1="1348.7" x2="921.65" y2="1390.3" stroke-width="3.8"/><line x1="915.65" y1="1356.1" x2="927.65" y2="1356.1" stroke-width="4.2"/><line x1="915.65" y1="1363.1" x2="927.65" y2="1363.1" stroke-width="4.2"/><line x1="915.65" y1="1369.6" x2="927.65" y2="1369.6" stroke-width="4.2"/><line x1="915.65" y1="1376.5" x2="927.65" y2="1376.5" stroke-width="4.2"/><line x1="915.65" y1="1383.4" x2="927.65" y2="1383.4" stroke-width="4.2"/><line x1="825.35" y1="1348.7" x2="825.35" y2="1390.3" stroke-width="3.8"/><line x1="819.35" y1="1356.1" x2="831.35" y2="1356.1" stroke-width="4.2"/><line x1="819.35" y1="1363.1" x2="831.35" y2="1363.1" stroke-width="4.2"/><line x1="819.35" y1="1369.6" x2="831.35" y2="1369.6" stroke-width="4.2"/><line x1="819.35" y1="1376.5" x2="831.35" y2="1376.5" stroke-width="4.2"/><line x1="819.35" y1="1383.4" x2="831.35" y2="1383.4" stroke-width="4.2"/><line x1="821.6" y1="1400.4" x2="860.8" y2="1400.4" stroke-width="5.4"/><line x1="925.4" y1="1400.4" x2="886.2" y2="1400.4" stroke-width="5.4"/><line x1="821.6" y1="1400.4" x2="860" y2="1381.2" stroke-width="5.2"/><line x1="925.4" y1="1400.4" x2="887" y2="1381.2" stroke-width="5.2"/><polyline points="856.2,1398.6 853.1,1387.7 846.2,1398.6 843.1,1392.4 839.2,1398.6" stroke-width="3.1" fill="none"/><polyline points="890.8,1398.6 893.9,1387.7 900.8,1398.6 903.9,1392.4 907.8,1398.6" stroke-width="3.1" fill="none"/><line x1="921.65" y1="1400.4" x2="921.65" y2="1442" stroke-width="3.8"/><line x1="915.65" y1="1407.8" x2="927.65" y2="1407.8" stroke-width="4.2"/><line x1="915.65" y1="1414.8" x2="927.65" y2="1414.8" stroke-width="4.2"/><line x1="915.65" y1="1421.3" x2="927.65" y2="1421.3" stroke-width="4.2"/><line x1="915.65" y1="1428.2" x2="927.65" y2="1428.2" stroke-width="4.2"/><line x1="915.65" y1="1435.1" x2="927.65" y2="1435.1" stroke-width="4.2"/><line x1="825.35" y1="1400.4" x2="825.35" y2="1442" stroke-width="3.8"/><line x1="819.35" y1="1407.8" x2="831.35" y2="1407.8" stroke-width="4.2"/><line x1="819.35" y1="1414.8" x2="831.35" y2="1414.8" stroke-width="4.2"/><line x1="819.35" y1="1421.3" x2="831.35" y2="1421.3" stroke-width="4.2"/><line x1="819.35" y1="1428.2" x2="831.35" y2="1428.2" stroke-width="4.2"/><line x1="819.35" y1="1435.1" x2="831.35" y2="1435.1" stroke-width="4.2"/><line x1="821.6" y1="1454.2" x2="860.8" y2="1454.2" stroke-width="5.4"/><line x1="925.4" y1="1454.2" x2="886.2" y2="1454.2" stroke-width="5.4"/><line x1="821.6" y1="1454.2" x2="860" y2="1435.3" stroke-width="5.2"/><line x1="925.4" y1="1454.2" x2="887" y2="1435.3" stroke-width="5.2"/><polyline points="856.2,1452.4 853.1,1441.8 846.2,1452.4 843.1,1446.5 839.2,1452.4" stroke-width="3.1" fill="none"/><polyline points="890.8,1452.4 893.9,1441.8 900.8,1452.4 903.9,1446.5 907.8,1452.4" stroke-width="3.1" fill="none"/><line x1="921.65" y1="1454.2" x2="921.65" y2="1495.8" stroke-width="3.8"/><line x1="915.65" y1="1461.6" x2="927.65" y2="1461.6" stroke-width="4.2"/><line x1="915.65" y1="1468.6" x2="927.65" y2="1468.6" stroke-width="4.2"/><line x1="915.65" y1="1475.1" x2="927.65" y2="1475.1" stroke-width="4.2"/><line x1="915.65" y1="1482" x2="927.65" y2="1482" stroke-width="4.2"/><line x1="915.65" y1="1488.9" x2="927.65" y2="1488.9" stroke-width="4.2"/><line x1="825.35" y1="1454.2" x2="825.35" y2="1495.8" stroke-width="3.8"/><line x1="819.35" y1="1461.6" x2="831.35" y2="1461.6" stroke-width="4.2"/><line x1="819.35" y1="1468.6" x2="831.35" y2="1468.6" stroke-width="4.2"/><line x1="819.35" y1="1475.1" x2="831.35" y2="1475.1" stroke-width="4.2"/><line x1="819.35" y1="1482" x2="831.35" y2="1482" stroke-width="4.2"/><line x1="819.35" y1="1488.9" x2="831.35" y2="1488.9" stroke-width="4.2"/><line x1="860.8" y1="1333.8" x2="886.2" y2="1363" stroke-width="5.6"/><line x1="886.2" y1="1333.8" x2="860.8" y2="1363" stroke-width="5.6"/><line x1="860.8" y1="1363" x2="886.2" y2="1393" stroke-width="5.6"/><line x1="886.2" y1="1363" x2="860.8" y2="1393" stroke-width="5.6"/><line x1="860.8" y1="1393" x2="886.2" y2="1425.7" stroke-width="5.6"/><line x1="886.2" y1="1393" x2="860.8" y2="1425.7" stroke-width="5.6"/><line x1="860.8" y1="1425.7" x2="886.85" y2="1461" stroke-width="5.6"/><line x1="886.2" y1="1425.7" x2="860.15" y2="1461" stroke-width="5.6"/><line x1="860.15" y1="1461" x2="891.23" y2="1508.5" stroke-width="5.6"/><line x1="886.85" y1="1461" x2="855.77" y2="1508.5" stroke-width="5.6"/><line x1="855.77" y1="1508.5" x2="895.91" y2="1559.3" stroke-width="5.6"/><line x1="891.23" y1="1508.5" x2="851.09" y2="1559.3" stroke-width="5.6"/><line x1="851.09" y1="1559.3" x2="900.59" y2="1610" stroke-width="5.6"/><line x1="895.91" y1="1559.3" x2="846.41" y2="1610" stroke-width="5.6"/><line x1="846.41" y1="1610" x2="906.4" y2="1673" stroke-width="5.6"/><line x1="900.59" y1="1610" x2="840.6" y2="1673" stroke-width="5.6"/></g>
<g><line x1="1246" y1="1371.6" x2="1240" y2="1399.3" stroke-width="5.2"/><line x1="1246" y1="1371.6" x2="1252" y2="1399.3" stroke-width="5.2"/><polyline points="1240,1399.3 1229.6,1673" stroke-width="5.6" fill="none"/><polyline points="1252,1399.3 1262.4,1673" stroke-width="5.6" fill="none"/><line x1="1218.2" y1="1408.6" x2="1273.8" y2="1408.6" stroke-width="5.4"/><line x1="1218.2" y1="1408.6" x2="1239" y2="1397.6" stroke-width="5"/><line x1="1273.8" y1="1408.6" x2="1253" y2="1397.6" stroke-width="5"/><line x1="1218.2" y1="1408.6" x2="1218.2" y2="1417.6" stroke-width="5.2"/><line x1="1273.8" y1="1408.6" x2="1273.8" y2="1417.6" stroke-width="5.2"/><line x1="1218.2" y1="1439.2" x2="1273.8" y2="1439.2" stroke-width="5.4"/><line x1="1218.2" y1="1439.2" x2="1239" y2="1428.2" stroke-width="5"/><line x1="1273.8" y1="1439.2" x2="1253" y2="1428.2" stroke-width="5"/><line x1="1218.2" y1="1439.2" x2="1218.2" y2="1448.2" stroke-width="5.2"/><line x1="1273.8" y1="1439.2" x2="1273.8" y2="1448.2" stroke-width="5.2"/><line x1="1218.2" y1="1469.6" x2="1273.8" y2="1469.6" stroke-width="5.4"/><line x1="1218.2" y1="1469.6" x2="1239" y2="1458.6" stroke-width="5"/><line x1="1273.8" y1="1469.6" x2="1253" y2="1458.6" stroke-width="5"/><line x1="1218.2" y1="1469.6" x2="1218.2" y2="1478.6" stroke-width="5.2"/><line x1="1273.8" y1="1469.6" x2="1273.8" y2="1478.6" stroke-width="5.2"/><line x1="1240" y1="1399.3" x2="1252.35" y2="1408.6" stroke-width="5.2"/><line x1="1252" y1="1399.3" x2="1239.65" y2="1408.6" stroke-width="5.2"/><line x1="1239.65" y1="1408.6" x2="1252.94" y2="1424" stroke-width="5.2"/><line x1="1252.35" y1="1408.6" x2="1239.06" y2="1424" stroke-width="5.2"/><line x1="1239.06" y1="1424" x2="1253.52" y2="1439.2" stroke-width="5.2"/><line x1="1252.94" y1="1424" x2="1238.48" y2="1439.2" stroke-width="5.2"/><line x1="1238.48" y1="1439.2" x2="1254.1" y2="1454.5" stroke-width="5.2"/><line x1="1253.52" y1="1439.2" x2="1237.9" y2="1454.5" stroke-width="5.2"/><line x1="1237.9" y1="1454.5" x2="1254.67" y2="1469.6" stroke-width="5.2"/><line x1="1254.1" y1="1454.5" x2="1237.33" y2="1469.6" stroke-width="5.2"/><line x1="1237.33" y1="1469.6" x2="1255.53" y2="1492.3" stroke-width="5.2"/><line x1="1254.67" y1="1469.6" x2="1236.47" y2="1492.3" stroke-width="5.2"/><line x1="1239.65" y1="1408.6" x2="1252.35" y2="1408.6" stroke-width="4.8"/><line x1="1238.48" y1="1439.2" x2="1253.52" y2="1439.2" stroke-width="4.8"/><line x1="1237.33" y1="1469.6" x2="1254.67" y2="1469.6" stroke-width="4.8"/><line x1="1236.47" y1="1492.3" x2="1255.53" y2="1492.3" stroke-width="4.8"/><line x1="1236.47" y1="1492.3" x2="1256.96" y2="1529.9" stroke-width="4.6"/><line x1="1255.53" y1="1492.3" x2="1235.04" y2="1529.9" stroke-width="4.6"/><line x1="1235.04" y1="1529.9" x2="1258.43" y2="1568.4" stroke-width="4.6"/><line x1="1256.96" y1="1529.9" x2="1233.57" y2="1568.4" stroke-width="4.6"/><line x1="1233.57" y1="1568.4" x2="1259.7" y2="1602" stroke-width="4.6"/><line x1="1258.43" y1="1568.4" x2="1232.3" y2="1602" stroke-width="4.6"/><line x1="1232.3" y1="1602" x2="1262.4" y2="1673" stroke-width="4.6"/><line x1="1259.7" y1="1602" x2="1229.6" y2="1673" stroke-width="4.6"/><line x1="1235.04" y1="1529.9" x2="1256.96" y2="1529.9" stroke-width="4.8"/><line x1="1233.57" y1="1568.4" x2="1258.43" y2="1568.4" stroke-width="4.8"/><line x1="1232.3" y1="1602" x2="1259.7" y2="1602" stroke-width="4.8"/><line x1="1230.8" y1="1636.7" x2="1261.2" y2="1636.7" stroke-width="4.8"/></g>
</g>
<g id="ground">
<path d="M169.3,890 H2020 V898.9 H169.3 A4.45,4.45 0 0 1 169.3,890 Z" fill="#231F20"/>
<path d="M157.9,1673.8 H1408.6 A4.4,4.4 0 0 1 1408.6,1682.6 H157.9 Z" fill="#231F20"/>
</g>
<g id="seps" stroke-linecap="round">
<line x1="165.5" y1="913.5" x2="165.5" y2="1048.8" stroke-width="2.6" stroke="#85858F"/>
<line x1="770.8" y1="913.5" x2="770.8" y2="1048.8" stroke-width="2.6" stroke="#85858F"/>
<line x1="1426" y1="913.5" x2="1426" y2="1048.8" stroke-width="2.6" stroke="#85858F"/>
<line x1="2014.8" y1="913.5" x2="2014.8" y2="1048.8" stroke-width="2.6" stroke="#85858F"/>
<line x1="162.35" y1="1697.5" x2="162.35" y2="1832.8" stroke-width="2.6" stroke="#85858F"/>
<line x1="664.6" y1="1697.5" x2="664.6" y2="1832.8" stroke-width="2.6" stroke="#85858F"/>
<line x1="1064" y1="1697.5" x2="1064" y2="1832.8" stroke-width="2.6" stroke="#85858F"/>
<line x1="1412.4" y1="1697.5" x2="1412.4" y2="1832.8" stroke-width="2.6" stroke="#85858F"/>
</g>
<g id="arrows" stroke="#1B63B0" stroke-linecap="round">
<polyline points="191,976.65 183.6,981.4 191,986.15" stroke-width="3" fill="none" stroke-linejoin="round"/><line x1="194.2" y1="981.4" x2="372.4" y2="981.4" stroke="#1B63B0" stroke-width="3.1" stroke-linecap="round" stroke-dasharray="0 6.56"/><circle cx="186.6" cy="981.4" r="1.6" fill="#1B63B0" stroke="none"/>
<polyline points="737.2,979.95 744.6,984.7 737.2,989.45" stroke-width="3" fill="none" stroke-linejoin="round"/><line x1="734" y1="984.7" x2="556.1" y2="984.7" stroke="#1B63B0" stroke-width="3.1" stroke-linecap="round" stroke-dasharray="0 6.56"/><circle cx="741.6" cy="984.7" r="1.6" fill="#1B63B0" stroke="none"/>
<polyline points="799.3,979.55 791.9,984.3 799.3,989.05" stroke-width="3" fill="none" stroke-linejoin="round"/><line x1="802.5" y1="984.3" x2="1000.3" y2="984.3" stroke="#1B63B0" stroke-width="3.1" stroke-linecap="round" stroke-dasharray="0 6.56"/><circle cx="794.9" cy="984.3" r="1.6" fill="#1B63B0" stroke="none"/>
<polyline points="1397,979.55 1404.4,984.3 1397,989.05" stroke-width="3" fill="none" stroke-linejoin="round"/><line x1="1393.8" y1="984.3" x2="1189.9" y2="984.3" stroke="#1B63B0" stroke-width="3.1" stroke-linecap="round" stroke-dasharray="0 6.56"/><circle cx="1401.4" cy="984.3" r="1.6" fill="#1B63B0" stroke="none"/>
<polyline points="1445,979.75 1437.6,984.5 1445,989.25" stroke-width="3" fill="none" stroke-linejoin="round"/><line x1="1448.2" y1="984.5" x2="1626.2" y2="984.5" stroke="#1B63B0" stroke-width="3.1" stroke-linecap="round" stroke-dasharray="0 6.56"/><circle cx="1440.6" cy="984.5" r="1.6" fill="#1B63B0" stroke="none"/>
<polyline points="1991.7,979.85 1999.1,984.6 1991.7,989.35" stroke-width="3" fill="none" stroke-linejoin="round"/><line x1="1988.5" y1="984.6" x2="1811.2" y2="984.6" stroke="#1B63B0" stroke-width="3.1" stroke-linecap="round" stroke-dasharray="0 6.56"/><circle cx="1996.1" cy="984.6" r="1.6" fill="#1B63B0" stroke="none"/>
<polyline points="183.2,1763.35 175.8,1768.1 183.2,1772.85" stroke-width="3" fill="none" stroke-linejoin="round"/><line x1="186.4" y1="1768.1" x2="315.5" y2="1768.1" stroke="#1B63B0" stroke-width="3.1" stroke-linecap="round" stroke-dasharray="0 6.56"/><circle cx="178.8" cy="1768.1" r="1.6" fill="#1B63B0" stroke="none"/>
<polyline points="642.3,1762.45 649.7,1767.2 642.3,1771.95" stroke-width="3" fill="none" stroke-linejoin="round"/><line x1="639.1" y1="1767.2" x2="510.4" y2="1767.2" stroke="#1B63B0" stroke-width="3.1" stroke-linecap="round" stroke-dasharray="0 6.56"/><circle cx="646.7" cy="1767.2" r="1.6" fill="#1B63B0" stroke="none"/>
<polyline points="689.8,1764.05 682.4,1768.8 689.8,1773.55" stroke-width="3" fill="none" stroke-linejoin="round"/><line x1="693" y1="1768.8" x2="779.2" y2="1768.8" stroke="#1B63B0" stroke-width="3.1" stroke-linecap="round" stroke-dasharray="0 6.56"/><circle cx="685.4" cy="1768.8" r="1.6" fill="#1B63B0" stroke="none"/>
<polyline points="1047.8,1764.05 1055.2,1768.8 1047.8,1773.55" stroke-width="3" fill="none" stroke-linejoin="round"/><line x1="1044.6" y1="1768.8" x2="958.5" y2="1768.8" stroke="#1B63B0" stroke-width="3.1" stroke-linecap="round" stroke-dasharray="0 6.56"/><circle cx="1052.2" cy="1768.8" r="1.6" fill="#1B63B0" stroke="none"/>
<polyline points="1086.8,1764.05 1079.4,1768.8 1086.8,1773.55" stroke-width="3" fill="none" stroke-linejoin="round"/><line x1="1090" y1="1768.8" x2="1147.7" y2="1768.8" stroke="#1B63B0" stroke-width="3.1" stroke-linecap="round" stroke-dasharray="0 6.56"/><circle cx="1082.4" cy="1768.8" r="1.6" fill="#1B63B0" stroke="none"/>
<polyline points="1391.8,1764.05 1399.2,1768.8 1391.8,1773.55" stroke-width="3" fill="none" stroke-linejoin="round"/><line x1="1388.6" y1="1768.8" x2="1332.1" y2="1768.8" stroke="#1B63B0" stroke-width="3.1" stroke-linecap="round" stroke-dasharray="0 6.56"/><circle cx="1396.2" cy="1768.8" r="1.6" fill="#1B63B0" stroke="none"/>
</g>
<rect x="1485.4" y="1512.9" width="30.4" height="30.3" fill="#BDD646"/>
<g id="labels">
<text x="41.4" y="104.8" textLength="467.2" lengthAdjust="spacingAndGlyphs" font-size="79" fill="#2859A8" font-weight="bold" stroke="#2859A8" stroke-width="1.6" stroke-linejoin="round">Transmission</text>
<text x="529.2" y="104.8" textLength="130.66" lengthAdjust="spacingAndGlyphs" font-size="79" fill="#2859A8" font-weight="bold" stroke="#2859A8" stroke-width="1.6" stroke-linejoin="round">line</text>
<text x="681.04" y="104.8" textLength="359.66" lengthAdjust="spacingAndGlyphs" font-size="79" fill="#2859A8" font-weight="bold" stroke="#2859A8" stroke-width="1.6" stroke-linejoin="round">easement</text>
<text x="1064.3" y="104.8" textLength="174.15" lengthAdjust="spacingAndGlyphs" font-size="79" fill="#2859A8" font-weight="bold" stroke="#2859A8" stroke-width="1.6" stroke-linejoin="round">sizes</text>
<text x="98.4" y="228.1" textLength="37.1" lengthAdjust="spacingAndGlyphs" font-size="35" fill="#0B0B0C" font-weight="bold" stroke="#0B0B0C" stroke-width="0.5" stroke-linejoin="round">70</text>
<text x="98.31" y="328.2" textLength="40.42" lengthAdjust="spacingAndGlyphs" font-size="35" fill="#0B0B0C" font-weight="bold" stroke="#0B0B0C" stroke-width="0.5" stroke-linejoin="round">60</text>
<text x="98.72" y="428.4" textLength="40.01" lengthAdjust="spacingAndGlyphs" font-size="35" fill="#0B0B0C" font-weight="bold" stroke="#0B0B0C" stroke-width="0.5" stroke-linejoin="round">50</text>
<text x="100.05" y="528.5" textLength="37.35" lengthAdjust="spacingAndGlyphs" font-size="35" fill="#0B0B0C" font-weight="bold" stroke="#0B0B0C" stroke-width="0.5" stroke-linejoin="round">40</text>
<text x="100.05" y="628.8" textLength="37.35" lengthAdjust="spacingAndGlyphs" font-size="35" fill="#0B0B0C" font-weight="bold" stroke="#0B0B0C" stroke-width="0.5" stroke-linejoin="round">30</text>
<text x="99.09" y="729.1" textLength="37.3" lengthAdjust="spacingAndGlyphs" font-size="35" fill="#0B0B0C" font-weight="bold" stroke="#0B0B0C" stroke-width="0.5" stroke-linejoin="round">20</text>
<text x="97.91" y="829.4" textLength="33.84" lengthAdjust="spacingAndGlyphs" font-size="35" fill="#0B0B0C" font-weight="bold" stroke="#0B0B0C" stroke-width="0.5" stroke-linejoin="round">10</text>
<text x="100.95" y="888.6" textLength="14.79" lengthAdjust="spacingAndGlyphs" font-size="31.4" fill="#1B63B0" font-weight="bold" stroke="#1B63B0" stroke-width="0.5" stroke-linejoin="round">3</text>
<text x="98.72" y="1212.4" textLength="40.01" lengthAdjust="spacingAndGlyphs" font-size="35" fill="#0B0B0C" font-weight="bold" stroke="#0B0B0C" stroke-width="0.5" stroke-linejoin="round">50</text>
<text x="100.05" y="1312.6" textLength="37.35" lengthAdjust="spacingAndGlyphs" font-size="35" fill="#0B0B0C" font-weight="bold" stroke="#0B0B0C" stroke-width="0.5" stroke-linejoin="round">40</text>
<text x="100.05" y="1412.9" textLength="37.35" lengthAdjust="spacingAndGlyphs" font-size="35" fill="#0B0B0C" font-weight="bold" stroke="#0B0B0C" stroke-width="0.5" stroke-linejoin="round">30</text>
<text x="99.09" y="1513.1" textLength="37.3" lengthAdjust="spacingAndGlyphs" font-size="35" fill="#0B0B0C" font-weight="bold" stroke="#0B0B0C" stroke-width="0.5" stroke-linejoin="round">20</text>
<text x="97.91" y="1613.4" textLength="33.84" lengthAdjust="spacingAndGlyphs" font-size="35" fill="#0B0B0C" font-weight="bold" stroke="#0B0B0C" stroke-width="0.5" stroke-linejoin="round">10</text>
<text x="100.95" y="1672.6" textLength="14.79" lengthAdjust="spacingAndGlyphs" font-size="31.4" fill="#1B63B0" font-weight="bold" stroke="#1B63B0" stroke-width="0.5" stroke-linejoin="round">3</text>
<text transform="translate(69.2,671.7) rotate(-90)" x="-3.35" y="0" textLength="261.96" lengthAdjust="spacingAndGlyphs" font-size="38" fill="#231F20" stroke="#fff" stroke-width="0.7">Height (metres)</text>
<text transform="translate(68.9,1554) rotate(-90)" x="-3.35" y="0" textLength="262.16" lengthAdjust="spacingAndGlyphs" font-size="38" fill="#231F20" stroke="#fff" stroke-width="0.7">Height (metres)</text>
<text x="413.9" y="958.6" textLength="93.51" lengthAdjust="spacingAndGlyphs" font-size="30" fill="#1B63B0" font-weight="bold" stroke="#1B63B0" stroke-width="0.4" stroke-linejoin="round">500kV</text>
<text x="377.71" y="990.3" textLength="169.62" lengthAdjust="spacingAndGlyphs" font-size="25" fill="#0B0B0C" font-weight="bold" stroke="#fff" stroke-width="0.4">Double Circuit</text>
<text x="404" y="1021.2" textLength="119.63" lengthAdjust="spacingAndGlyphs" font-size="25" fill="#0B0B0C" font-weight="bold" stroke="#fff" stroke-width="0.4">60 meters</text>
<text x="1048.8" y="958.8" textLength="94.01" lengthAdjust="spacingAndGlyphs" font-size="30" fill="#1B63B0" font-weight="bold" stroke="#1B63B0" stroke-width="0.4" stroke-linejoin="round">500kV</text>
<text x="1020.2" y="990.3" textLength="156.35" lengthAdjust="spacingAndGlyphs" font-size="25" fill="#0B0B0C" font-weight="bold" stroke="#fff" stroke-width="0.4">Single Circuit</text>
<text x="1041.4" y="1020.8" textLength="117.11" lengthAdjust="spacingAndGlyphs" font-size="25" fill="#0B0B0C" font-weight="bold" stroke="#fff" stroke-width="0.4">65 meters</text>
<text x="1673.8" y="958.9" textLength="91.11" lengthAdjust="spacingAndGlyphs" font-size="30" fill="#1B63B0" font-weight="bold" stroke="#1B63B0" stroke-width="0.4" stroke-linejoin="round">330kV</text>
<text x="1643.4" y="990" textLength="156.54" lengthAdjust="spacingAndGlyphs" font-size="25" fill="#0B0B0C" font-weight="bold" stroke="#fff" stroke-width="0.4">Single Circuit</text>
<text x="1664.4" y="1020.6" textLength="116.8" lengthAdjust="spacingAndGlyphs" font-size="25" fill="#0B0B0C" font-weight="bold" stroke="#fff" stroke-width="0.4">58 meters</text>
<text x="1484.4" y="1201.7" textLength="115.38" lengthAdjust="spacingAndGlyphs" font-size="46" fill="#231F20" font-weight="bold" stroke="#231F20" stroke-width="0.7" stroke-linejoin="round">Note:</text>
<text x="1485.95" y="1277.7" textLength="501.99" lengthAdjust="spacingAndGlyphs" font-size="36.5" fill="#231F20" stroke="#fff" stroke-width="0.7">Actual easement details may</text>
<text x="1485.95" y="1324.7" textLength="486.65" lengthAdjust="spacingAndGlyphs" font-size="36.5" fill="#231F20" stroke="#fff" stroke-width="0.7">vary from typical widths, but</text>
<text x="1484.86" y="1371.6" textLength="535.4" lengthAdjust="spacingAndGlyphs" font-size="36.5" fill="#231F20" stroke="#fff" stroke-width="0.7">are recorded on the Certificate</text>
<text x="1484.9" y="1418.3" textLength="494.01" lengthAdjust="spacingAndGlyphs" font-size="36.5" fill="#231F20" stroke="#fff" stroke-width="0.7">of Title, which should be your</text>
<text x="1485.95" y="1465.5" textLength="388.16" lengthAdjust="spacingAndGlyphs" font-size="36.5" fill="#231F20" stroke="#fff" stroke-width="0.7">first point of reference.</text>
<text x="1526.1" y="1543.2" textLength="51.52" lengthAdjust="spacingAndGlyphs" font-size="36.5" fill="#2859A8" font-weight="bold">3m</text>
<text x="1584.63" y="1543.2" textLength="270.87" lengthAdjust="spacingAndGlyphs" font-size="36.5" fill="#231F20" stroke="#fff" stroke-width="0.7">is the maximum</text>
<text x="1483.74" y="1590.2" textLength="488.14" lengthAdjust="spacingAndGlyphs" font-size="36.5" fill="#231F20" stroke="#fff" stroke-width="0.7">mature height of vegetation</text>
<text x="1484.88" y="1638.1" textLength="244.2" lengthAdjust="spacingAndGlyphs" font-size="36.5" fill="#231F20" stroke="#fff" stroke-width="0.7">on easements</text>
<text x="1484.42" y="1713.2" textLength="41.96" lengthAdjust="spacingAndGlyphs" font-size="36.5" fill="#2859A8" font-weight="bold">kV</text>
<text x="1536.32" y="1713.2" textLength="464.12" lengthAdjust="spacingAndGlyphs" font-size="36.5" fill="#231F20" stroke="#fff" stroke-width="0.7">= kilovolts or thousand volts</text>
<text x="367.39" y="1742.4" textLength="87.82" lengthAdjust="spacingAndGlyphs" font-size="30" fill="#1B63B0" font-weight="bold" stroke="#1B63B0" stroke-width="0.4" stroke-linejoin="round">275kV</text>
<text x="329.61" y="1773.5" textLength="169.12" lengthAdjust="spacingAndGlyphs" font-size="25" fill="#0B0B0C" font-weight="bold" stroke="#fff" stroke-width="0.4">Double Circuit</text>
<text x="356.3" y="1804.4" textLength="119.22" lengthAdjust="spacingAndGlyphs" font-size="25" fill="#0B0B0C" font-weight="bold" stroke="#fff" stroke-width="0.4">50 meters</text>
<text x="817.44" y="1743" textLength="91.77" lengthAdjust="spacingAndGlyphs" font-size="30" fill="#1B63B0" font-weight="bold" stroke="#1B63B0" stroke-width="0.4" stroke-linejoin="round">220kV</text>
<text x="781.41" y="1773.9" textLength="169.12" lengthAdjust="spacingAndGlyphs" font-size="25" fill="#0B0B0C" font-weight="bold" stroke="#fff" stroke-width="0.4">Double Circuit</text>
<text x="807" y="1803.8" textLength="120.23" lengthAdjust="spacingAndGlyphs" font-size="25" fill="#0B0B0C" font-weight="bold" stroke="#fff" stroke-width="0.4">40 meters</text>
<text x="1199.86" y="1743" textLength="72.75" lengthAdjust="spacingAndGlyphs" font-size="30" fill="#1B63B0" font-weight="bold" stroke="#1B63B0" stroke-width="0.4" stroke-linejoin="round">66kV</text>
<text x="1153.1" y="1773.9" textLength="170.72" lengthAdjust="spacingAndGlyphs" font-size="25" fill="#0B0B0C" font-weight="bold" stroke="#fff" stroke-width="0.4">Double Circuit</text>
<text x="1179.9" y="1803.8" textLength="118.92" lengthAdjust="spacingAndGlyphs" font-size="25" fill="#0B0B0C" font-weight="bold" stroke="#fff" stroke-width="0.4">30 meters</text>
</g>
</svg>
</body>
</html>
